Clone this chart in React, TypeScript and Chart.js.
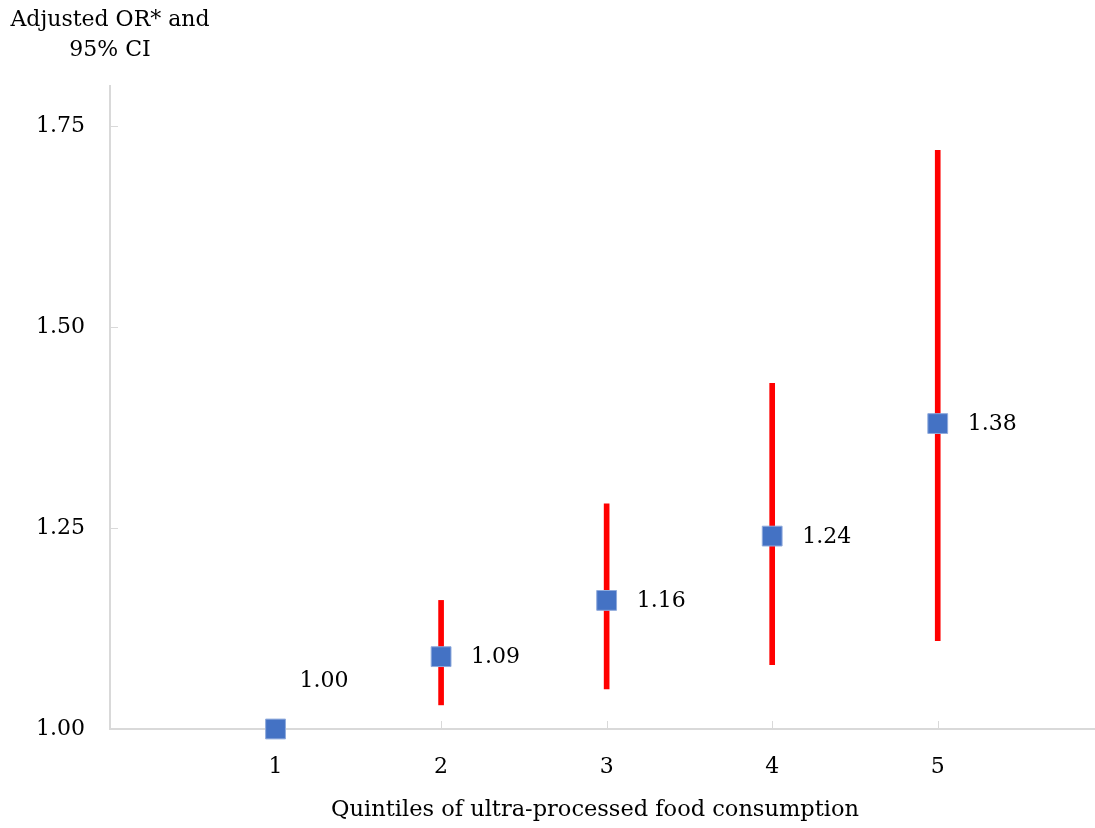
import React, { useEffect, useRef } from "react";
import { Chart, registerables } from "chart.js";

Chart.register(...registerables);

const quintiles = [1, 2, 3, 4, 5];
const oddsRatios = [1.0, 1.09, 1.16, 1.24, 1.38];
const ciLower = [null, 1.03, 1.05, 1.08, 1.11];
const ciUpper = [null, 1.16, 1.28, 1.43, 1.72];
const yTicks = [1.0, 1.25, 1.5, 1.75];
const yTitleLines = ["Adjusted OR* and", "95% CI"];
const xTitle = "Quintiles of ultra-processed food consumption";

const FONT = "'DejaVu Serif', serif";
const AXIS_COLOR = "#d9d9d9";

export default function App() {
  const ref = useRef<HTMLCanvasElement>(null);

  useEffect(() => {
    const canvas = ref.current!;
    const tickPlugin = {
      id: "innerTicks",
      beforeDatasetsDraw(chart: any) {
        const ctx = chart.ctx;
        const xs = chart.scales.x;
        const ys = chart.scales.y;
        ctx.save();
        ctx.strokeStyle = AXIS_COLOR;
        ctx.lineWidth = 1;
        ctx.beginPath();
        yTicks.forEach((t) => {
          const py = Math.round(ys.getPixelForValue(t)) + 0.5;
          ctx.moveTo(xs.left, py);
          ctx.lineTo(xs.left + 8, py);
        });
        quintiles.forEach((q) => {
          const px = Math.round(xs.getPixelForValue(q)) + 0.5;
          ctx.moveTo(px, ys.bottom);
          ctx.lineTo(px, ys.bottom - 8);
        });
        ctx.stroke();
        ctx.restore();
      },
    };
    const labelPlugin = {
      id: "labels",
      afterDatasetsDraw(chart: any) {
        const ctx = chart.ctx;
        const xs = chart.scales.x;
        const ys = chart.scales.y;
        ctx.save();
        ctx.fillStyle = "#000";
        ctx.font = `22px ${FONT}`;
        ctx.textBaseline = "middle";
        ctx.textAlign = "left";
        quintiles.forEach((q, i) => {
          const px = xs.getPixelForValue(q);
          const py = ys.getPixelForValue(oddsRatios[i]);
          const txt = oddsRatios[i].toFixed(2);
          if (i === 0) ctx.fillText(txt, px + 24, py - 48);
          else ctx.fillText(txt, px + 30, py + 1);
        });
        ctx.textAlign = "center";
        ctx.fillText(yTitleLines[0], 110, 20);
        ctx.fillText(yTitleLines[1], 110, 50);
        ctx.font = `22.5px ${FONT}`;
        ctx.fillText(xTitle, 595, 810);
        ctx.restore();
      },
    };

    const chart = new Chart(canvas, {
      type: "scatter",
      data: {
        datasets: [
          {
            type: "scatter",
            label: "OR",
            data: quintiles.map((q, i) => ({ x: q, y: oddsRatios[i] })),
            pointStyle: "rect",
            pointRadius: 14,
            backgroundColor: "#4472C4",
            borderColor: "#8faadc",
            borderWidth: 1,
            clip: false,
            order: 0,
          } as any,
          {
            type: "bar",
            label: "CI",
            data: quintiles
              .map((q, i) => (ciLower[i] == null ? null : { x: q, y: [ciLower[i], ciUpper[i]] }))
              .filter((d) => d !== null),
            backgroundColor: "#ff0000",
            borderWidth: 0,
            barThickness: 5,
            order: 1,
          } as any,
        ],
      },
      options: {
        animation: false,
        responsive: false,
        layout: { autoPadding: false, padding: { top: 86, right: 0, left: 0, bottom: 0 } },
        plugins: { legend: { display: false }, tooltip: { enabled: false } },
        scales: {
          x: {
            type: "linear",
            min: 0,
            max: 5.95,
            offset: false,
            afterBuildTicks: (s: any) => {
              s.ticks = quintiles.map((v) => ({ value: v }));
            },
            afterFit: (s: any) => {
              s.height = 99;
              s.paddingLeft = 0;
              s.paddingRight = 0;
            },
            grid: { display: false, drawTicks: false },
            border: { display: true, color: AXIS_COLOR, width: 2 },
            ticks: {
              color: "#000",
              font: { family: FONT, size: 22 },
              padding: 25,
              callback: (v: any) => String(v),
            },
            title: { display: false },
          },
          y: {
            type: "linear",
            min: 1.0,
            max: 1.8,
            afterBuildTicks: (s: any) => {
              s.ticks = yTicks.map((v) => ({ value: v }));
            },
            afterFit: (s: any) => {
              s.width = 110;
              s.paddingTop = 0;
              s.paddingBottom = 0;
            },
            grid: { display: false, drawTicks: false },
            border: { display: true, color: AXIS_COLOR, width: 2 },
            ticks: {
              color: "#000",
              font: { family: FONT, size: 22 },
              padding: 25,
              callback: (v: any) => Number(v).toFixed(2),
            },
          },
        },
      },
      plugins: [tickPlugin, labelPlugin],
    });
    return () => chart.destroy();
  }, []);

  return (
    <canvas
      ref={ref}
      width={1095}
      height={828}
      style={{ display: "block", position: "fixed", left: 0, top: 0, width: 1095, height: 828 }}
    />
  );
}
